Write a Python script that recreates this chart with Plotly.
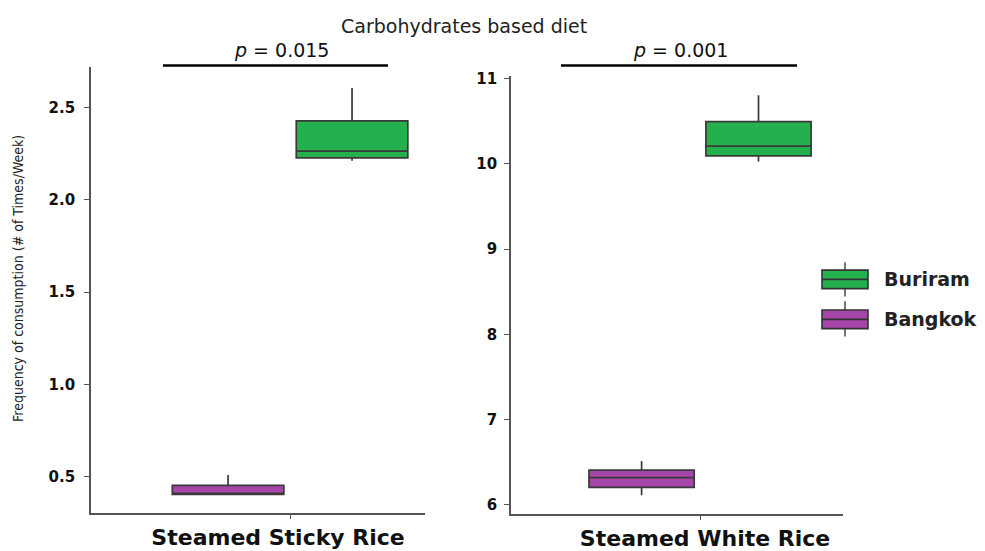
import plotly.graph_objects as go

W, H = 985, 551

# ---------------- data ----------------
categories = ['Steamed Sticky Rice', 'Steamed White Rice']
groups = ['Bangkok', 'Buriram']
group_colors = ['#A546A8', '#23B04D']

bangkok_lower = [0.405, 6.114]
bangkok_q1 = [0.405, 6.206]
bangkok_median = [0.405, 6.32]
bangkok_q3 = [0.453, 6.41]
bangkok_upper = [0.51, 6.515]

buriram_lower = [2.21, 10.03]
buriram_q1 = [2.226, 10.096]
buriram_median = [2.263, 10.21]
buriram_q3 = [2.426, 10.497]
buriram_upper = [2.605, 10.805]

p_values = ['0.015', '0.001']
left_ticks = [0.5, 1.0, 1.5, 2.0, 2.5]
right_ticks = [6, 7, 8, 9, 10, 11]

stats = {
    'Bangkok': (bangkok_lower, bangkok_q1, bangkok_median, bangkok_q3, bangkok_upper),
    'Buriram': (buriram_lower, buriram_q1, buriram_median, buriram_q3, buriram_upper),
}

# ---------------- helpers (pixel -> paper) ----------------
def px_x(v):
    return v / W

def px_y(v):
    return 1 - v / H

fig = go.Figure()
axes = [('x', 'y'), ('x2', 'y2')]
for i, cat in enumerate(categories):
    xa, ya = axes[i]
    for g, col in zip(groups, group_colors):
        lo, q1, med, q3, up = stats[g]
        fig.add_trace(go.Box(
            x=[cat], lowerfence=[lo[i]], q1=[q1[i]], median=[med[i]],
            q3=[q3[i]], upperfence=[up[i]],
            name=g, offsetgroup=g, fillcolor=col, whiskerwidth=0,
            line=dict(color='#3a3a3a', width=1.7),
            xaxis=xa, yaxis=ya, showlegend=False, boxpoints=False,
        ))

axis_common = dict(showline=True, linecolor='#555555', linewidth=1.6,
                   showgrid=False, zeroline=False, ticks='outside',
                   tickcolor='#555555', tickwidth=1.3)

xfont = dict(family='DejaVu Sans', size=22, color='#111', weight='bold')
yfont = dict(family='DejaVu Sans', size=15, color='#111', weight='bold')

fig.update_layout(
    width=W, height=H,
    margin=dict(l=0, r=0, t=0, b=0),
    paper_bgcolor='white', plot_bgcolor='white',
    boxmode='group', boxgap=0.3, boxgroupgap=0.1,
    xaxis=dict(domain=[px_x(91), px_x(425)], range=[-0.562, 0.381],
               tickfont=xfont, ticklen=4, ticklabelshift=-12, **axis_common),
    yaxis=dict(domain=[px_y(520), px_y(63)], range=[0.305, 2.716],
               tickvals=left_ticks, ticktext=[f'{v:.1f}' for v in left_ticks],
               tickfont=yfont, ticklen=5, ticklabelstandoff=6, **axis_common),
    xaxis2=dict(domain=[px_x(511), px_x(843)], range=[-0.566, 0.428], anchor='y2',
                tickfont=xfont, ticklen=4, ticklabelshift=5, **axis_common),
    yaxis2=dict(domain=[px_y(521), px_y(72)], range=[5.897, 11.03], anchor='x2',
                tickvals=right_ticks, ticktext=[str(v) for v in right_ticks],
                tickfont=yfont, ticklen=5, ticklabelstandoff=4, **axis_common),
)

annotations = []
shapes = []

# title
annotations.append(dict(text='Carbohydrates based diet', x=px_x(464), y=px_y(21),
                        xref='paper', yref='paper', showarrow=False,
                        xanchor='center', yanchor='middle',
                        font=dict(family='DejaVu Sans', size=19, color='#222')))

# p-value brackets
p_text_x = [281, 680]
p_line = [(163, 388), (561, 797)]
for pv, tx, (x0, x1) in zip(p_values, p_text_x, p_line):
    annotations.append(dict(text=f'<i>p</i> = {pv}', x=px_x(tx), y=px_y(45),
                            xref='paper', yref='paper', showarrow=False,
                            xanchor='center', yanchor='middle',
                            font=dict(family='DejaVu Sans', size=19, color='#111')))
    shapes.append(dict(type='line', xref='paper', yref='paper',
                       x0=px_x(x0), x1=px_x(x1), y0=px_y(61), y1=px_y(61),
                       line=dict(color='black', width=2.5)))

# y-axis title
annotations.append(dict(text='Frequency of consumption (# of Times/Week)',
                        x=px_x(18), y=px_y(280), xref='paper', yref='paper',
                        showarrow=False, textangle=-90,
                        xanchor='center', yanchor='middle',
                        font=dict(family='Liberation Sans Narrow, DejaVu Sans Condensed, Arial Narrow',
                                  size=14, color='#222')))

# custom legend
legend_items = [('Buriram', group_colors[1], 271, 290, 263, 298),
                ('Bangkok', group_colors[0], 312, 331, 303, 339)]
for name, col, y0, y1, w0, w1 in legend_items:
    shapes.append(dict(type='line', xref='paper', yref='paper',
                       x0=px_x(845), x1=px_x(845), y0=px_y(w0), y1=px_y(w1),
                       line=dict(color='#444', width=1.5)))
    shapes.append(dict(type='rect', xref='paper', yref='paper',
                       x0=px_x(822), x1=px_x(868), y0=px_y(y0), y1=px_y(y1),
                       fillcolor=col, line=dict(color='#333', width=1.6)))
    ym = (y0 + y1) / 2
    shapes.append(dict(type='line', xref='paper', yref='paper',
                       x0=px_x(822), x1=px_x(868), y0=px_y(ym), y1=px_y(ym),
                       line=dict(color='#333', width=1.8)))
    annotations.append(dict(text=name, x=px_x(882), y=px_y(ym), xref='paper', yref='paper',
                            showarrow=False, xanchor='left', yanchor='middle',
                            font=dict(family='DejaVu Sans', size=19, color='#222', weight='bold')))

fig.update_layout(annotations=annotations, shapes=shapes)

fig.write_html('out.html')
